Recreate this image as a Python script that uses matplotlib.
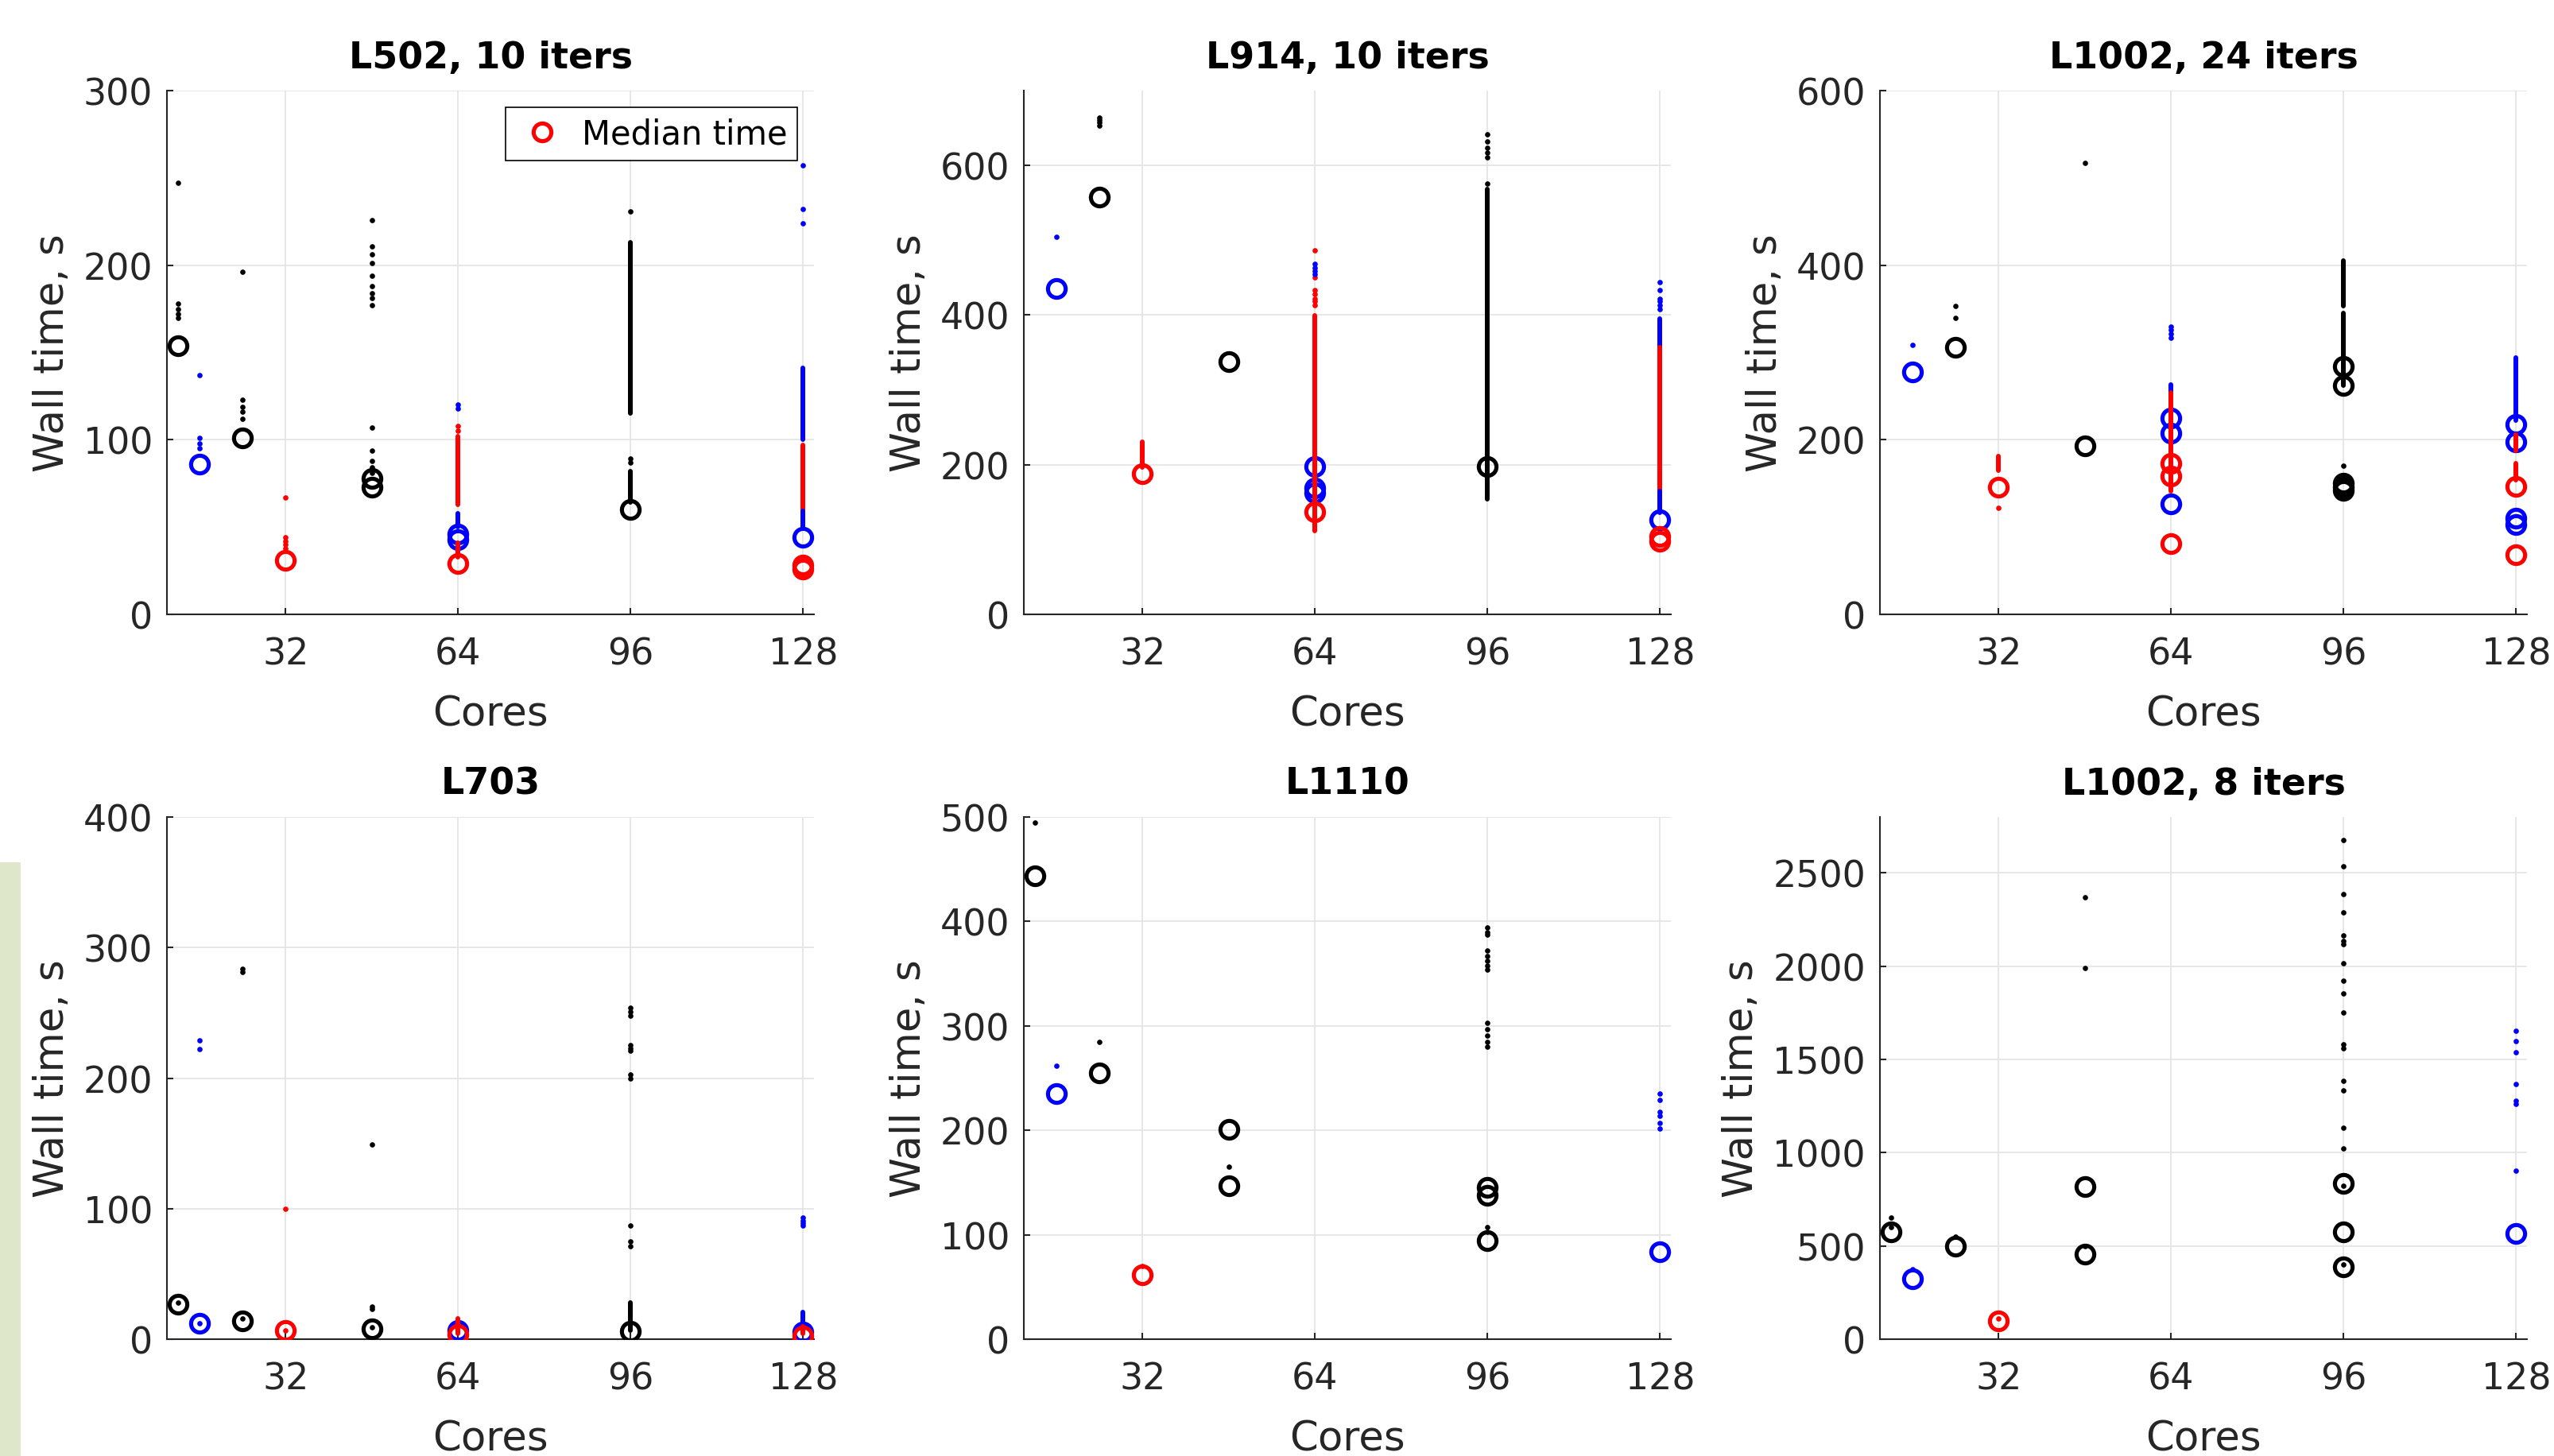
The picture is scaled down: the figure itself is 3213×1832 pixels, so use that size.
"""
Wall time vs cores for six test jobs (scatter of all runs + median circles)
"""

import matplotlib
matplotlib.use("Agg")
import matplotlib.pyplot as plt
from matplotlib.lines import Line2D
from matplotlib.patches import Rectangle

# three job families, drawn black / blue / red in the original
GROUP_COLOR = {"A": "#000000", "B": "#0000ff", "C": "#ff0000"}

CORE_TICKS = [32, 64, 96, 128]

# ===== L502, 10 iters =====
l502_medians = [(12, 154, "A"), (16, 86, "B"), (24, 101, "A"), (32, 31, "C"),
                (48, 78, "A"), (48, 73, "A"), (64, 46, "B"), (64, 43, "B"),
                (64, 29, "C"), (96, 60, "A"), (128, 44, "B"), (128, 28, "C"),
                (128, 26, "C")]
l502_dots = [(12, "A", [247, 178, 175, 172, 170]),
             (16, "B", [137, 101, 98, 95]),
             (24, "A", [196, 123, 119, 116, 112]),
             (32, "C", [67, 44, 42, 40, 38]),
             (48, "A", [226, 211, 206, 201, 194, 188, 184, 181, 177, 107, 94, 88, 84, 81]),
             (64, "B", [120, 118]),
             (64, "C", [108, 105]),
             (96, "A", [231, 89, 87]),
             (128, "B", [257, 232, 224])]
l502_strips = [(64, "C", 63, 102), (64, "B", 50, 58), (64, "C", 33, 41),
               (96, "A", 115, 213), (96, "A", 64, 82),
               (128, "B", 100, 141), (128, "C", 58, 97), (128, "B", 50, 59)]

# ===== L914, 10 iters =====
l914_medians = [(16, 435, "B"), (24, 558, "A"), (32, 188, "C"), (48, 338, "A"),
                (64, 198, "B"), (64, 169, "B"), (64, 162, "B"), (64, 137, "C"),
                (96, 198, "A"), (128, 126, "B"), (128, 104, "C"), (128, 98, "C")]
l914_dots = [(16, "B", [505]),
             (24, "A", [664, 661, 657, 653]),
             (64, "C", [487, 450, 433, 428, 422, 418, 413]),
             (64, "B", [468, 463, 459, 455]),
             (96, "A", [642, 632, 623, 617, 611, 576]),
             (128, "B", [444, 433, 422, 418, 413, 408])]
l914_strips = [(32, "C", 196, 231), (64, "C", 112, 399), (96, "A", 154, 568),
               (128, "B", 353, 395), (128, "C", 165, 357), (128, "B", 136, 165)]

# ===== L1002, 24 iters =====
l1002a_medians = [(16, 278, "B"), (24, 306, "A"), (32, 146, "C"), (48, 193, "A"),
                  (64, 225, "B"), (64, 208, "B"), (64, 127, "B"),
                  (64, 173, "C"), (64, 158, "C"), (64, 81, "C"),
                  (96, 284, "A"), (96, 262, "A"), (96, 150, "A"), (96, 146, "A"),
                  (96, 142, "A"),
                  (128, 218, "B"), (128, 198, "B"), (128, 110, "B"), (128, 103, "B"),
                  (128, 147, "C"), (128, 68, "C")]
l1002a_dots = [(16, "B", [309]),
               (24, "A", [353, 340]),
               (32, "C", [122]),
               (48, "A", [517]),
               (64, "B", [330, 326, 321, 317]),
               (96, "A", [170])]
l1002a_strips = [(32, "C", 165, 181), (64, "B", 253, 263), (64, "C", 141, 254),
                 (96, "A", 353, 405), (96, "A", 262, 345),
                 (128, "B", 222, 294), (128, "C", 188, 206), (128, "C", 154, 173)]

# ===== L703 =====
l703_medians = [(12, 27, "A"), (16, 12, "B"), (24, 14, "A"), (32, 6.4, "C"),
                (48, 8.2, "A"), (64, 7, "B"), (64, 3.6, "C"), (96, 6, "A"),
                (128, 5.3, "B"), (128, 2.5, "C")]
l703_dots = [(12, "A", [28]),
             (16, "B", [229, 222, 12]),
             (24, "A", [284, 281, 16]),
             (32, "C", [100, 7]),
             (48, "A", [149, 25, 23, 9]),
             (96, "A", [254, 251, 248, 225, 223, 221, 203, 200, 87, 75, 71]),
             (128, "B", [93, 91, 89, 87])]
l703_strips = [(64, "C", 4, 16), (96, "A", 7, 28), (128, "B", 11, 21), (128, "C", 4, 10)]

# ===== L1110 =====
l1110_medians = [(12, 444, "A"), (16, 235, "B"), (24, 255, "A"), (32, 62, "C"),
                 (48, 201, "A"), (48, 147, "A"), (96, 145, "A"), (96, 138, "A"),
                 (96, 94, "A"), (128, 84, "B")]
l1110_dots = [(12, "A", [495]),
              (16, "B", [262]),
              (24, "A", [285]),
              (32, "C", [70]),
              (48, "A", [165]),
              (96, "A", [394, 390, 387, 372, 367, 362, 358, 354,
                         303, 297, 291, 285, 280, 107, 103]),
              (128, "B", [235, 229, 218, 214, 207, 202])]
l1110_strips = []

# ===== L1002, 8 iters =====
l1002b_medians = [(12, 575, "A"), (16, 325, "B"), (24, 500, "A"), (32, 100, "C"),
                  (48, 817, "A"), (48, 455, "A"), (96, 836, "A"), (96, 575, "A"),
                  (96, 387, "A"), (128, 567, "B")]
l1002b_dots = [(12, "A", [650, 600]),
               (16, "B", [375]),
               (24, "A", [550]),
               (32, "C", [112]),
               (48, "A", [2370, 1992, 500]),
               (96, "A", [2675, 2535, 2387, 2287, 2167, 2137, 2120, 2015, 1922,
                          1855, 1752, 1580, 1560, 1385, 1335, 1135, 1022, 823, 400]),
               (128, "B", [1654, 1597, 1540, 1367, 1280, 1260, 905])]
l1002b_strips = []

# title, y limit, y tick step, data
PANELS = [
    ("L502, 10 iters", 300, 100, l502_medians, l502_dots, l502_strips),
    ("L914, 10 iters", 700, 200, l914_medians, l914_dots, l914_strips),
    ("L1002, 24 iters", 600, 200, l1002a_medians, l1002a_dots, l1002a_strips),
    ("L703", 400, 100, l703_medians, l703_dots, l703_strips),
    ("L1110", 500, 100, l1110_medians, l1110_dots, l1110_strips),
    ("L1002, 8 iters", 2800, 500, l1002b_medians, l1002b_dots, l1002b_strips),
]

TXT = "#262626"
W, H = 3213, 1833
MED_MS, MED_MEW = 16, 3.7


def plot_panel(ax, title, ymax, ystep, medians, dots, strips):
    for cores, t, g in medians:
        ax.plot(cores, t, "o", ms=MED_MS, mfc="none", mec=GROUP_COLOR[g],
                mew=MED_MEW, zorder=3)
    for cores, g, lo, hi in strips:
        ax.plot([cores, cores], [lo, hi], color=GROUP_COLOR[g], lw=4.3,
                solid_capstyle="round", zorder=4)
    for cores, g, times in dots:
        ax.plot([cores] * len(times), times, "o", ms=4.8, mew=0,
                color=GROUP_COLOR[g], zorder=4)

    ax.set_xlim(10, 130)
    ax.set_ylim(0, ymax)
    ax.set_xticks(CORE_TICKS)
    ax.set_yticks(list(range(0, ymax + 1, ystep)))
    ax.set_title(title, fontsize=33, fontweight="bold", pad=21)
    ax.set_xlabel("Cores", fontsize=37, color=TXT, labelpad=20)
    ax.set_ylabel("Wall time, s", fontsize=37, color=TXT, labelpad=10)
    ax.grid(True, color="#e3e3e3", lw=1.2)
    ax.set_axisbelow(True)
    for side in ("top", "right"):
        ax.spines[side].set_visible(False)
    for side in ("left", "bottom"):
        ax.spines[side].set_color(TXT)
        ax.spines[side].set_linewidth(1.5)
    ax.tick_params(direction="in", length=6, width=1.5, colors=TXT, labelsize=33)
    ax.tick_params(axis="x", pad=20)
    ax.tick_params(axis="y", pad=13)


fig = plt.figure(figsize=(W / 100, H / 100), dpi=100)

# stray slide background strip at the lower left edge
fig.patches.append(Rectangle((0, 0), 26 / W, 1 - 1086 / H, transform=fig.transFigure,
                             facecolor="#dfe7cb", edgecolor="none", zorder=0))

lefts = [210, 1288, 2365]
rows = [(774, 659), (1686, 657)]
for i, (title, ymax, ystep, med, dts, strp) in enumerate(PANELS):
    left = lefts[i % 3]
    bottom_px, height_px = rows[i // 3]
    ax = fig.add_axes([left / W, 1 - bottom_px / H, 814 / W, height_px / H])
    plot_panel(ax, title, ymax, ystep, med, dts, strp)
    if i == 0:
        handle = Line2D([], [], ls="none", marker="o", ms=MED_MS, mfc="none",
                        mec=GROUP_COLOR["C"], mew=MED_MEW)
        leg = ax.legend([handle], ["Median time"], loc="upper right", fontsize=30,
                        frameon=True, fancybox=False, framealpha=1, edgecolor="#000000",
                        borderaxespad=0.5, borderpad=0.3, handlelength=1.6,
                        handletextpad=0.4)
        leg.get_frame().set_linewidth(1.2)

plt.savefig("out.png", dpi=100)
print("saved out.png")
